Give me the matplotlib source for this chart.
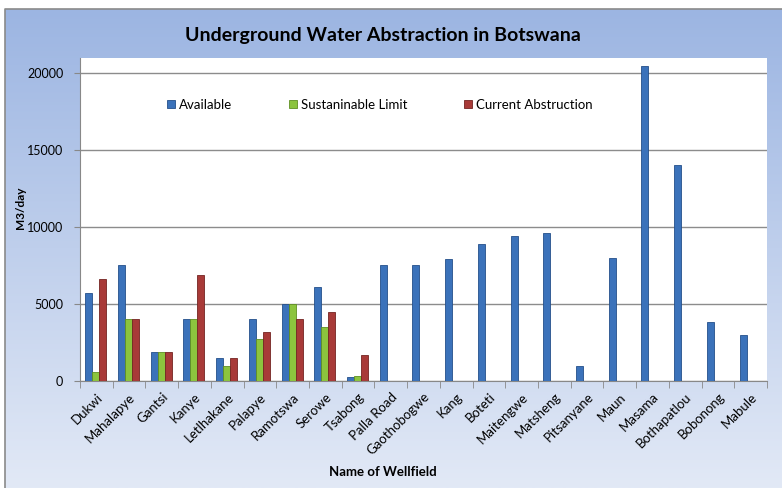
import numpy as np
import matplotlib.pyplot as plt

wellfields = ["Dukwi", "Mahalapye", "Gantsi", "Kanye", "Letlhakane", "Palapye",
              "Ramotswa", "Serowe", "Tsabong", "Palla Road", "Gaothobogwe", "Kang",
              "Boteti", "Maitengwe", "Matsheng", "Pitsanyane", "Maun", "Masama",
              "Bothapatlou", "Bobonong", "Mabule"]
available = [5700, 7500, 1900, 4000, 1500, 4000, 5000, 6100, 250, 7500, 7500, 7900,
             8900, 9400, 9600, 1000, 8000, 20450, 14000, 3800, 3000]
sustainable = [600, 4000, 1900, 4000, 1000, 2700, 5000, 3500, 300] + [np.nan] * 12
current = [6600, 4000, 1900, 6900, 1500, 3200, 4000, 4500, 1700] + [np.nan] * 12

plt.rcParams['font.family'] = ['Lato', 'DejaVu Sans']

fig = plt.figure(figsize=(7.82, 4.88), dpi=100)

# fond du graphique (dégradé bleu)
bg = fig.add_axes([5 / 782, 0, 790 / 782, 479 / 488], zorder=-10)
grad = np.linspace(0, 1, 256).reshape(-1, 1)
top_c = np.array([0x9c, 0xb5, 0xe2]) / 255
bot_c = np.array([0xe2, 0xe9, 0xf6]) / 255
img = top_c * (1 - grad[..., None]) + bot_c * grad[..., None]
bg.imshow(img, aspect="auto", extent=[0, 1, 0, 1])
bg.plot([0, 0, 1], [0, 1, 1], color="#8a8a8a", lw=1.2, transform=bg.transAxes, clip_on=False)
bg.axis("off")

ax = fig.add_axes([80 / 782, 1 - 381 / 488, 687 / 782, 323 / 488])
x = np.arange(len(wellfields))
w = 0.215
off = 0.16
kw = dict(width=w, align="edge", linewidth=0.6, zorder=3)
ax.bar(x + off, available, color="#3b72ba", edgecolor="#244f8a", label="Available", **kw)
ax.bar(x + off + w, sustainable, color="#8cc43e", edgecolor="#5f8f22", label="Sustaninable Limit", **kw)
ax.bar(x + off + 2 * w, current, color="#a83a38", edgecolor="#742422", label="Current Abstruction", **kw)

ax.set_xlim(0, len(wellfields))
ax.set_ylim(0, 20970)
ax.set_yticks([0, 5000, 10000, 15000, 20000])
ax.set_yticklabels(["0", "5000", "10000", "15000", "20000"], fontsize=9)
ax.set_xticks(x + 0.5)
ax.set_xticklabels(wellfields, rotation=45, ha="right", rotation_mode="anchor", fontsize=9.5)
ax.set_xticks(np.arange(len(wellfields) + 1), minor=True)
ax.tick_params(axis="x", which="major", length=0, pad=7)
ax.tick_params(axis="x", which="minor", length=5, color="#888888")
ax.tick_params(axis="y", length=4, color="#888888", pad=8)
ax.yaxis.grid(True, color="#8c8c8c", lw=1)
ax.set_axisbelow(True)
for s in ["top", "right"]:
    ax.spines[s].set_visible(False)
ax.spines["left"].set_color("#888888")
ax.spines["bottom"].set_color("#888888")

ax.set_ylabel("M3/day", fontsize=8.5, fontweight="bold")
ax.yaxis.set_label_coords(-0.078, 0.535)
ax.set_xlabel("Name of Wellfield", fontsize=9.5, fontweight="bold")
ax.xaxis.set_label_coords(0.441, -0.263)
fig.text(383 / 782, 1 - 35 / 488, "Underground Water Abstraction in Botswana", ha="center",
         va="center", fontsize=14, fontweight="bold")

ax.legend(loc="center", bbox_to_anchor=(0.437, 0.855), ncol=3, frameon=False,
          fontsize=9.5, handlelength=0.6, handleheight=0.6, columnspacing=4.3,
          handletextpad=0.3)

plt.savefig("out.png", dpi=100)
